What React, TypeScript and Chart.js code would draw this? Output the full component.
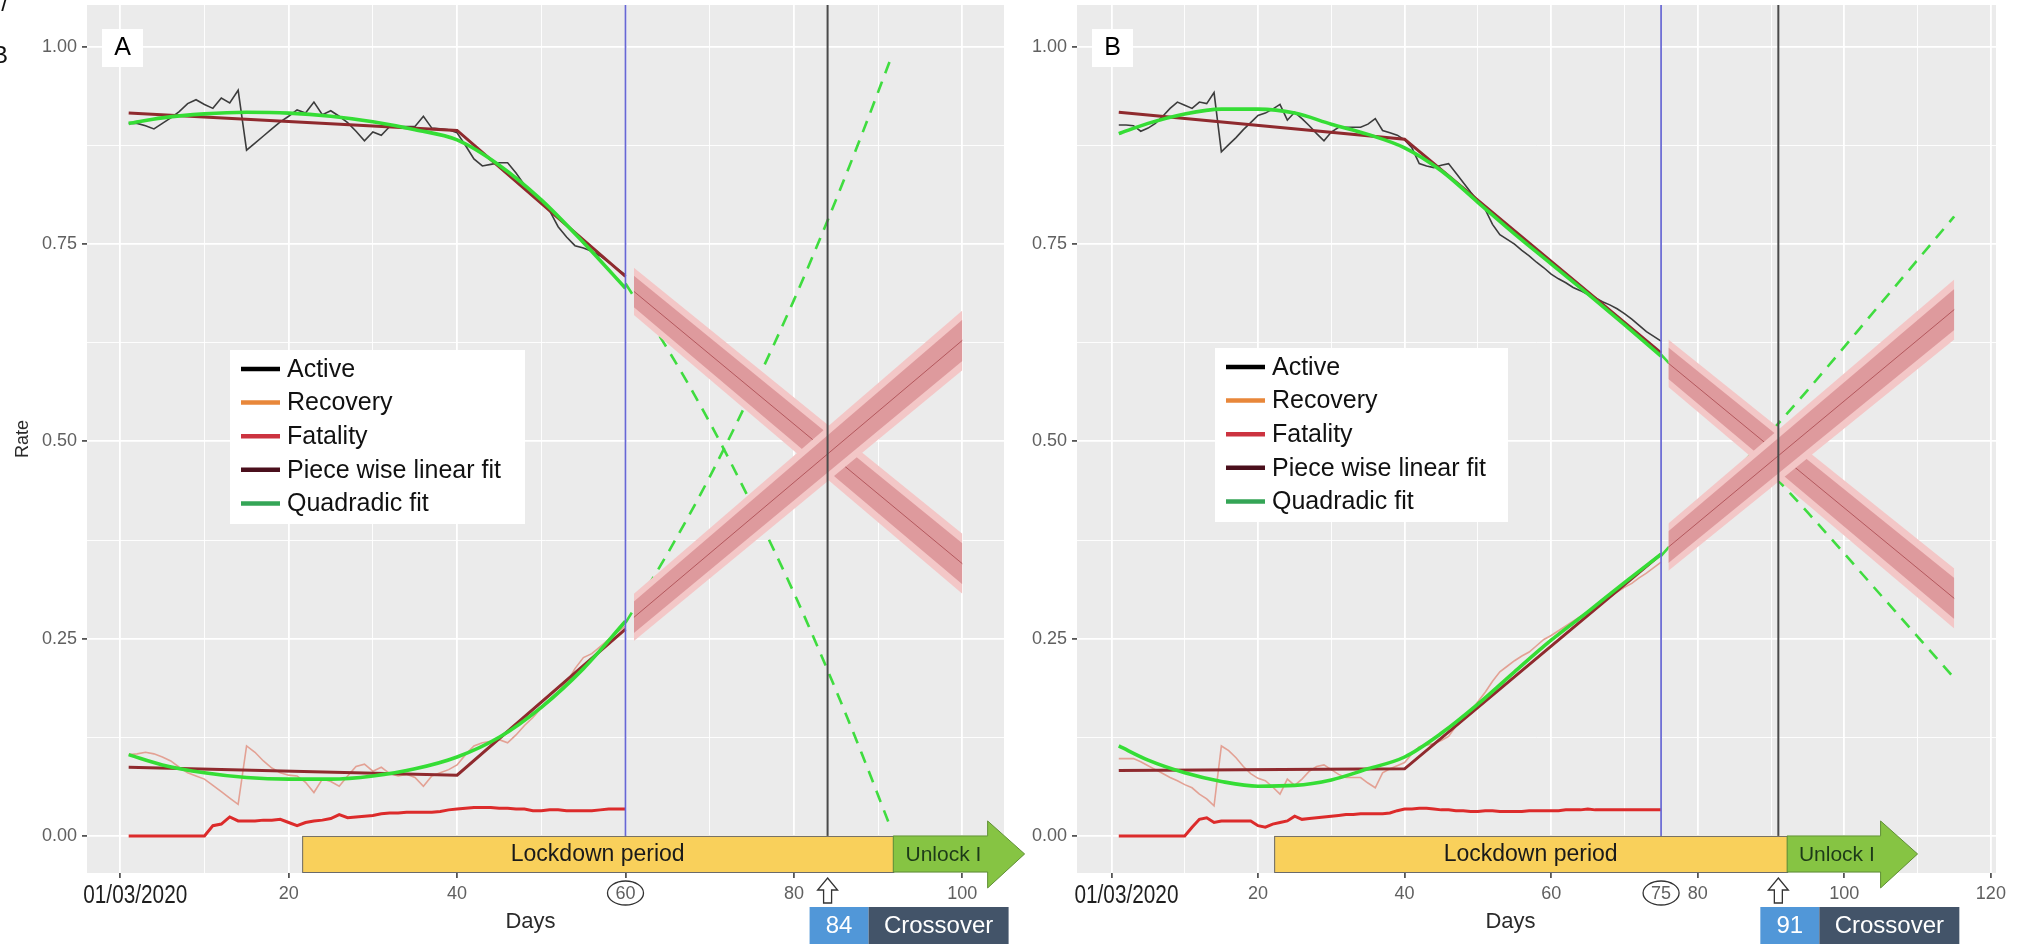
import React, { useEffect, useRef } from 'react';
import { Chart, registerables } from 'chart.js';
Chart.register(...registerables);

const SANS = '"Liberation Sans", Arial, sans-serif';

// ---------- axis ticks ----------
const yTickValues = [0, 0.125, 0.25, 0.375, 0.5, 0.625, 0.75, 0.875, 1.0];
const yTickLabels = ['0.00', '', '0.25', '', '0.50', '', '0.75', '', '1.00'];
const xTickValuesA = [0, 10, 20, 30, 40, 50, 60, 70, 80, 90, 100];
const xTickLabelsA = ['01/03/2020', '', '20', '', '40', '', '60', '', '80', '', '100'];
const xTickValuesB = [0, 10, 20, 30, 40, 50, 60, 70, 75, 80, 90, 100, 110, 120];
const xTickLabelsB = ['01/03/2020', '', '20', '', '40', '', '60', '', '75', '80', '', '100', '', '120'];

const legendLabels = ['Active', 'Recovery', 'Fatality', 'Piece wise linear fit', 'Quadradic fit'];
const legendColors = ['#000000', '#e8873a', '#cc3340', '#4a0f1c', '#34a556'];

// ---------- panel A data (day 1..60) ----------
const activeA = [0.903, 0.903, 0.900, 0.896, 0.903, 0.910, 0.918, 0.928, 0.933, 0.927,
  0.922, 0.935, 0.929, 0.945, 0.869, 0.878, 0.887, 0.896, 0.905, 0.912,
  0.920, 0.916, 0.930, 0.914, 0.919, 0.912, 0.904, 0.893, 0.881, 0.892,
  0.888, 0.899, 0.899, 0.899, 0.899, 0.912, 0.897, 0.896, 0.895, 0.891,
  0.875, 0.858, 0.849, 0.851, 0.853, 0.853, 0.840, 0.825, 0.812, 0.803,
  0.792, 0.772, 0.759, 0.748, 0.745, 0.741, 0.735, 0.727, 0.719, 0.711];
const recoveryA = [0.103, 0.104, 0.106, 0.104, 0.100, 0.095, 0.087, 0.080, 0.076, 0.072,
  0.064, 0.056, 0.048, 0.040, 0.114, 0.106, 0.095, 0.086, 0.080, 0.077,
  0.076, 0.068, 0.055, 0.072, 0.069, 0.063, 0.076, 0.088, 0.091, 0.082,
  0.087, 0.079, 0.076, 0.078, 0.074, 0.063, 0.076, 0.080, 0.084, 0.090,
  0.103, 0.114, 0.118, 0.120, 0.122, 0.118, 0.128, 0.140, 0.150, 0.162,
  0.171, 0.183, 0.194, 0.212, 0.226, 0.231, 0.240, 0.249, 0.258, 0.266];
const fatalityA = [0, 0, 0, 0, 0, 0, 0, 0, 0, 0,
  0.013, 0.015, 0.024, 0.019, 0.019, 0.019, 0.020, 0.020, 0.021, 0.017,
  0.013, 0.017, 0.019, 0.020, 0.022, 0.027, 0.023, 0.024, 0.025, 0.026,
  0.028, 0.029, 0.029, 0.030, 0.030, 0.030, 0.030, 0.031, 0.033, 0.034,
  0.035, 0.036, 0.036, 0.036, 0.035, 0.035, 0.034, 0.034, 0.032, 0.032,
  0.033, 0.033, 0.032, 0.032, 0.032, 0.032, 0.033, 0.034, 0.034, 0.034];
const pwDaysA = [1, 40, 60];
const pwActiveA = [0.916, 0.894, 0.709];
const pwRecoveryA = [0.087, 0.077, 0.262];
const quadDaysA = [1, 5, 10, 15, 20, 25, 30, 35, 40, 45, 50, 55, 60];
const quadActiveA = [0.903, 0.910, 0.915, 0.917, 0.916, 0.912, 0.905, 0.895, 0.882, 0.850, 0.806, 0.752, 0.694];
const quadRecoveryA = [0.103, 0.090, 0.080, 0.074, 0.072, 0.072, 0.076, 0.085, 0.100, 0.125, 0.163, 0.212, 0.272];
const dashDaysA = [60, 65, 70, 75, 80, 84, 88, 91.5];
const dashActiveA = [0.700, 0.617, 0.524, 0.420, 0.308, 0.210, 0.106, 0.010];
const dashRecoveryA = [0.270, 0.358, 0.455, 0.563, 0.679, 0.780, 0.887, 0.985];
const bandDaysA = [61, 100];
const decMidA = [0.690, 0.345];
const decInnerHiA = [0.710, 0.371];
const decInnerLoA = [0.670, 0.319];
const decOuterHiA = [0.720, 0.383];
const decOuterLoA = [0.660, 0.307];
const incMidA = [0.277, 0.628];
const incInnerHiA = [0.297, 0.654];
const incInnerLoA = [0.257, 0.602];
const incOuterHiA = [0.307, 0.666];
const incOuterLoA = [0.247, 0.590];
const fitEndA = 60;
const crossoverA = 84;
const lockdownA = [21.6, 91.8];
const unlockTipA = 107.4;

// ---------- panel B data (day 1..75) ----------
const activeB = [0.901, 0.901, 0.900, 0.893, 0.897, 0.903, 0.912, 0.922, 0.930, 0.926,
  0.922, 0.930, 0.928, 0.942, 0.867, 0.876, 0.885, 0.895, 0.904, 0.913,
  0.916, 0.921, 0.927, 0.907, 0.917, 0.909, 0.900, 0.890, 0.881, 0.892,
  0.898, 0.898, 0.898, 0.898, 0.902, 0.909, 0.894, 0.891, 0.888, 0.882,
  0.872, 0.852, 0.849, 0.847, 0.850, 0.852, 0.840, 0.828, 0.816, 0.805,
  0.794, 0.775, 0.762, 0.756, 0.750, 0.742, 0.735, 0.727, 0.720, 0.712,
  0.706, 0.701, 0.695, 0.691, 0.686, 0.682, 0.677, 0.673, 0.668, 0.662,
  0.655, 0.647, 0.639, 0.633, 0.627];
const recoveryB = [0.098, 0.098, 0.098, 0.094, 0.089, 0.084, 0.079, 0.074, 0.070, 0.065,
  0.061, 0.053, 0.047, 0.038, 0.114, 0.108, 0.099, 0.088, 0.079, 0.073,
  0.070, 0.062, 0.053, 0.072, 0.064, 0.072, 0.082, 0.088, 0.090, 0.084,
  0.078, 0.074, 0.074, 0.074, 0.067, 0.061, 0.080, 0.085, 0.089, 0.093,
  0.104, 0.113, 0.115, 0.117, 0.121, 0.126, 0.139, 0.147, 0.157, 0.170,
  0.182, 0.196, 0.208, 0.215, 0.222, 0.228, 0.233, 0.241, 0.249, 0.254,
  0.260, 0.266, 0.272, 0.278, 0.283, 0.290, 0.297, 0.303, 0.309, 0.315,
  0.320, 0.327, 0.333, 0.340, 0.347];
const fatalityB = [0, 0, 0, 0, 0, 0, 0, 0, 0, 0,
  0.011, 0.021, 0.023, 0.017, 0.019, 0.019, 0.019, 0.019, 0.019, 0.013,
  0.011, 0.015, 0.017, 0.019, 0.025, 0.021, 0.022, 0.023, 0.024, 0.025,
  0.026, 0.027, 0.027, 0.028, 0.028, 0.028, 0.028, 0.029, 0.032, 0.034,
  0.034, 0.035, 0.035, 0.034, 0.033, 0.033, 0.032, 0.032, 0.031, 0.031,
  0.032, 0.032, 0.031, 0.031, 0.031, 0.031, 0.032, 0.032, 0.032, 0.032,
  0.032, 0.033, 0.033, 0.033, 0.034, 0.033, 0.033, 0.033, 0.033, 0.033,
  0.033, 0.033, 0.033, 0.033, 0.033];
const pwDaysB = [1, 40, 75];
const pwActiveB = [0.917, 0.883, 0.612];
const pwRecoveryB = [0.083, 0.085, 0.357];
const quadDaysB = [1, 5, 10, 15, 20, 25, 30, 35, 40, 45, 50, 55, 60, 65, 70, 75];
const quadActiveB = [0.890, 0.903, 0.915, 0.921, 0.921, 0.916, 0.902, 0.889, 0.872, 0.843, 0.803, 0.763, 0.725, 0.687, 0.648, 0.608];
const quadRecoveryB = [0.114, 0.096, 0.080, 0.069, 0.063, 0.064, 0.071, 0.085, 0.100, 0.130, 0.167, 0.208, 0.248, 0.284, 0.321, 0.357];
const dashDaysB = [75, 85, 95, 105, 115];
const dashActiveB = [0.610, 0.510, 0.410, 0.305, 0.200];
const dashRecoveryB = [0.355, 0.460, 0.565, 0.675, 0.785];
const bandDaysB = [76, 115];
const decMidB = [0.599, 0.301];
const decInnerHiB = [0.619, 0.327];
const decInnerLoB = [0.579, 0.275];
const decOuterHiB = [0.629, 0.339];
const decOuterLoB = [0.569, 0.263];
const incMidB = [0.366, 0.667];
const incInnerHiB = [0.386, 0.693];
const incInnerLoB = [0.346, 0.641];
const incOuterHiB = [0.396, 0.705];
const incOuterLoB = [0.336, 0.629];
const fitEndB = 75;
const crossoverB = 91;
const lockdownB = [22.2, 92.2];
const unlockTipB = 110;

// ---------- helpers ----------
const pts = (xs: number[], ys: number[]) => ys.map((y, i) => ({ x: xs[i], y }));
const daily = (ys: number[]) => ys.map((y, i) => ({ x: i + 1, y }));

const panelA = {
  name: 'A', xRange: [-3.95, 104.95], xTicks: xTickValuesA, xLabels: xTickLabelsA, xNoGrid: [] as number[],
  circled: 60, active: activeA, recovery: recoveryA, fatality: fatalityA,
  pwDays: pwDaysA, pwActive: pwActiveA, pwRecovery: pwRecoveryA,
  quadDays: quadDaysA, quadActive: quadActiveA, quadRecovery: quadRecoveryA,
  dashDays: dashDaysA, dashActive: dashActiveA, dashRecovery: dashRecoveryA,
  bandDays: bandDaysA,
  dec: [decOuterHiA, decOuterLoA, decInnerHiA, decInnerLoA, decMidA],
  inc: [incOuterHiA, incOuterLoA, incInnerHiA, incInnerLoA, incMidA],
  fitEnd: fitEndA, crossover: crossoverA, lockdown: lockdownA, unlockTip: unlockTipA,
  showRate: true, legendOffset: [143, 345], legendW: 295, daysShift: -15,
};
const panelB = {
  name: 'B', xRange: [-4.7, 120.7], xTicks: xTickValuesB, xLabels: xTickLabelsB, xNoGrid: [75],
  circled: 75, active: activeB, recovery: recoveryB, fatality: fatalityB,
  pwDays: pwDaysB, pwActive: pwActiveB, pwRecovery: pwRecoveryB,
  quadDays: quadDaysB, quadActive: quadActiveB, quadRecovery: quadRecoveryB,
  dashDays: dashDaysB, dashActive: dashActiveB, dashRecovery: dashRecoveryB,
  bandDays: bandDaysB,
  dec: [decOuterHiB, decOuterLoB, decInnerHiB, decInnerLoB, decMidB],
  inc: [incOuterHiB, incOuterLoB, incInnerHiB, incInnerLoB, incMidB],
  fitEnd: fitEndB, crossover: crossoverB, lockdown: lockdownB, unlockTip: unlockTipB,
  showRate: false, legendOffset: [138, 343], legendW: 293, daysShift: -26,
};

const CLEAR = 'rgba(0,0,0,0)';

function lineDs(data: any[], color: string, width: number, order: number, extra: any = {}) {
  return { data, borderColor: color, borderWidth: width, pointRadius: 0, fill: false, order, tension: 0, ...extra };
}

function bandDs(days: number[], hi: number[], lo: number[], color: string, order: number) {
  return [
    { data: pts(days, hi), borderColor: CLEAR, borderWidth: 0, backgroundColor: color, fill: '+1', pointRadius: 0, order },
    { data: pts(days, lo), borderColor: CLEAR, borderWidth: 0, fill: false, pointRadius: 0, order: order - 0.5 },
  ];
}

function buildDatasets(p: any) {
  const OUTER = '#f3c7c7';
  const INNER = '#de9a9d';
  const MID = '#b4585d';
  const DASH = '#3fdc3f';
  return [
    lineDs(pts(p.dashDays, p.dashActive), DASH, 2.6, 60, { borderDash: [12, 9], cubicInterpolationMode: 'monotone' }),
    lineDs(pts(p.dashDays, p.dashRecovery), DASH, 2.6, 59, { borderDash: [12, 9], cubicInterpolationMode: 'monotone' }),
    ...bandDs(p.bandDays, p.dec[0], p.dec[1], OUTER, 50),
    ...bandDs(p.bandDays, p.dec[2], p.dec[3], INNER, 48),
    lineDs(pts(p.bandDays, p.dec[4]), MID, 1, 46),
    ...bandDs(p.bandDays, p.inc[0], p.inc[1], OUTER, 44),
    ...bandDs(p.bandDays, p.inc[2], p.inc[3], INNER, 42),
    lineDs(pts(p.bandDays, p.inc[4]), MID, 1, 40),
    lineDs(daily(p.recovery), '#e3a194', 1.6, 30),
    lineDs(daily(p.active), '#3c3c3c', 1.6, 29),
    lineDs(daily(p.fatality), '#dc2b2b', 3, 28),
    lineDs(pts(p.pwDays, p.pwActive), '#8f2a2e', 3, 20),
    lineDs(pts(p.pwDays, p.pwRecovery), '#8f2a2e', 3, 19),
    lineDs(pts(p.quadDays, p.quadActive), '#35dd35', 3.6, 10, { cubicInterpolationMode: 'monotone' }),
    lineDs(pts(p.quadDays, p.quadRecovery), '#35dd35', 3.6, 9, { cubicInterpolationMode: 'monotone' }),
  ];
}

function overlayPlugin(p: any) {
  return {
    id: 'overlay' + p.name,
    beforeDraw(chart: any) {
      const { ctx, chartArea: a } = chart;
      ctx.save();
      ctx.fillStyle = '#ebebeb';
      ctx.fillRect(a.left, a.top, a.right - a.left, a.bottom - a.top);
      ctx.restore();
    },
    afterDatasetsDraw(chart: any) {
      const { ctx, chartArea: a, scales } = chart;
      const x = scales.x;
      ctx.save();
      const bx = x.getPixelForValue(p.fitEnd);
      ctx.strokeStyle = '#6767d4';
      ctx.lineWidth = 1.7;
      ctx.beginPath(); ctx.moveTo(bx, a.top); ctx.lineTo(bx, a.bottom); ctx.stroke();
      const cx = x.getPixelForValue(p.crossover);
      ctx.strokeStyle = '#4a4a4a';
      ctx.lineWidth = 2;
      ctx.beginPath(); ctx.moveTo(cx, a.top); ctx.lineTo(cx, a.bottom); ctx.stroke();
      ctx.restore();
    },
    afterDraw(chart: any) {
      const { ctx, chartArea: a, scales } = chart;
      const x = scales.x, y = scales.y;
      ctx.save();
      // first x tick label (date), drawn condensed
      ctx.textAlign = 'center';
      ctx.textBaseline = 'middle';
      ctx.fillStyle = '#1e1e1e';
      ctx.font = '25px ' + SANS;
      ctx.fillText(p.xLabels[0], x.getPixelForValue(p.xTicks[0]) + 15, a.bottom + 23, 104);

      // lockdown bar
      const x0 = x.getPixelForValue(p.lockdown[0]);
      const x1 = x.getPixelForValue(p.lockdown[1]);
      const yTop = y.getPixelForValue(0);
      const yBot = a.bottom - 1;
      const mid = (yTop + yBot) / 2;
      ctx.fillStyle = '#f9d05b';
      ctx.strokeStyle = '#6a6a6a';
      ctx.lineWidth = 1;
      ctx.fillRect(x0, yTop, x1 - x0, yBot - yTop);
      ctx.strokeRect(x0 + 0.5, yTop + 0.5, x1 - x0, yBot - yTop);
      // unlock arrow
      const tip = x.getPixelForValue(p.unlockTip);
      const hx = tip - 37;
      ctx.fillStyle = '#86c443';
      ctx.strokeStyle = '#5f8f35';
      ctx.beginPath();
      ctx.moveTo(x1, yTop);
      ctx.lineTo(hx, yTop);
      ctx.lineTo(hx, mid - 33);
      ctx.lineTo(tip, mid);
      ctx.lineTo(hx, mid + 34);
      ctx.lineTo(hx, yBot);
      ctx.lineTo(x1, yBot);
      ctx.closePath();
      ctx.fill();
      ctx.stroke();
      ctx.fillStyle = '#1a1a1a';
      ctx.font = '23px ' + SANS;
      ctx.fillText('Lockdown period', (x0 + x1) / 2, mid + 1);
      ctx.fillStyle = '#1d3a18';
      ctx.font = '21px ' + SANS;
      ctx.fillText('Unlock I', (x1 + hx) / 2 + 3, mid + 1);

      // circle around tick label
      const ex = x.getPixelForValue(p.circled);
      ctx.strokeStyle = '#333';
      ctx.lineWidth = 1.3;
      ctx.beginPath();
      ctx.ellipse(ex, a.bottom + 20, 18, 12, 0, 0, Math.PI * 2);
      ctx.stroke();

      // hollow up arrow under crossover
      const cx = x.getPixelForValue(p.crossover);
      const t0 = a.bottom + 5;
      ctx.fillStyle = '#ffffff';
      ctx.beginPath();
      ctx.moveTo(cx, t0);
      ctx.lineTo(cx + 10, t0 + 12);
      ctx.lineTo(cx + 4, t0 + 12);
      ctx.lineTo(cx + 4, t0 + 25);
      ctx.lineTo(cx - 4, t0 + 25);
      ctx.lineTo(cx - 4, t0 + 12);
      ctx.lineTo(cx - 10, t0 + 12);
      ctx.closePath();
      ctx.fill();
      ctx.stroke();

      // crossover box
      const bl = cx - 18;
      const bt = a.bottom + 34;
      ctx.fillStyle = '#5197d8';
      ctx.fillRect(bl, bt, 59, 37);
      ctx.fillStyle = '#435469';
      ctx.fillRect(bl + 59, bt, 140, 37);
      ctx.fillStyle = '#ffffff';
      ctx.font = '24px ' + SANS;
      ctx.fillText(String(p.crossover), bl + 29.5, bt + 19);
      ctx.fillText('Crossover', bl + 59 + 70, bt + 19);

      // panel letter
      ctx.fillStyle = '#ffffff';
      ctx.fillRect(a.left + 15, 29, 41, 38);
      ctx.fillStyle = '#000';
      ctx.font = '25px ' + SANS;
      ctx.fillText(p.name, a.left + 35.5, 48);

      // legend
      const lx = a.left + p.legendOffset[0];
      const ly = a.top + p.legendOffset[1];
      ctx.fillStyle = '#ffffff';
      ctx.fillRect(lx, ly, p.legendW, 174);
      ctx.textAlign = 'left';
      ctx.font = '25px ' + SANS;
      legendLabels.forEach((lab, i) => {
        const iy = ly + 19 + i * 33.6;
        ctx.strokeStyle = legendColors[i];
        ctx.lineWidth = 4.5;
        ctx.beginPath();
        ctx.moveTo(lx + 11, iy);
        ctx.lineTo(lx + 50, iy);
        ctx.stroke();
        ctx.fillStyle = '#111';
        ctx.fillText(lab, lx + 57, iy + 1);
      });

      // axis titles
      ctx.textAlign = 'center';
      ctx.fillStyle = '#2a2a2a';
      ctx.font = '22px ' + SANS;
      ctx.fillText('Days', (a.left + a.right) / 2 + p.daysShift, 922);
      if (p.showRate) {
        ctx.save();
        ctx.translate(23, (a.top + a.bottom) / 2);
        ctx.rotate(-Math.PI / 2);
        ctx.font = '18px ' + SANS;
        ctx.fillText('Rate', 0, 0);
        ctx.restore();
        // cropped glyph remnants at the edge
        ctx.textAlign = 'right';
        ctx.fillStyle = '#111';
        ctx.font = '24px ' + SANS;
        ctx.fillText('B', 8, 56);
        ctx.fillText('/', 8, 4);
      }
      ctx.restore();
    },
  };
}

function makeConfig(p: any, box: { padLeft: number; padRight: number; yAxisW: number }) {
  const isMajorX = (i: number) => p.xLabels[i] !== '' && !p.xNoGrid.includes(p.xTicks[i]);
  return {
    type: 'line',
    data: { datasets: buildDatasets(p) },
    options: {
      animation: false,
      responsive: false,
      devicePixelRatio: 1,
      events: [],
      layout: { padding: { left: box.padLeft, right: box.padRight, top: 5, bottom: 0 } },
      plugins: { legend: { display: false }, tooltip: { enabled: false }, filler: { propagate: false } },
      scales: {
        x: {
          type: 'linear',
          min: p.xRange[0],
          max: p.xRange[1],
          afterBuildTicks: (s: any) => { s.ticks = p.xTicks.map((v: number) => ({ value: v })); },
          afterFit: (s: any) => { s.height = 75; s.paddingLeft = 0; s.paddingRight = 0; },
          ticks: {
            autoSkip: false, maxRotation: 0, minRotation: 0, padding: 5,
            callback: (_v: any, i: number) => (i === 0 ? '' : p.xLabels[i]),
            font: { family: SANS, size: 18 },
            color: '#606060',
          },
          grid: {
            color: (c: any) => (p.xNoGrid.includes(p.xTicks[c.index]) ? CLEAR : '#ffffff'),
            lineWidth: (c: any) => (isMajorX(c.index) ? 1.8 : 0.9),
            tickColor: (c: any) => (isMajorX(c.index) ? '#555' : CLEAR),
            tickLength: 5,
            drawTicks: true,
          },
          border: { display: false },
        },
        y: {
          type: 'linear',
          min: -0.047,
          max: 1.053,
          afterBuildTicks: (s: any) => { s.ticks = yTickValues.map((v) => ({ value: v })); },
          afterFit: (s: any) => { s.width = box.yAxisW; s.paddingTop = 0; s.paddingBottom = 0; },
          ticks: {
            autoSkip: false, padding: 5,
            callback: (_v: any, i: number) => yTickLabels[i],
            font: { family: SANS, size: 18 },
            color: '#606060',
          },
          grid: {
            color: '#ffffff',
            lineWidth: (c: any) => (yTickLabels[c.index] ? 1.8 : 0.9),
            tickColor: (c: any) => (yTickLabels[c.index] ? '#555' : CLEAR),
            tickLength: 5,
            drawTicks: true,
          },
          border: { display: false },
        },
      },
    },
    plugins: [overlayPlugin(p)],
  };
}

export default function App() {
  const refA = useRef<HTMLCanvasElement>(null);
  const refB = useRef<HTMLCanvasElement>(null);
  useEffect(() => {
    document.body.style.margin = '0';
    const ca = new Chart(refA.current as any, makeConfig(panelA, { padLeft: 0, padRight: 1025, yAxisW: 87 }) as any);
    const cb = new Chart(refB.current as any, makeConfig(panelB, { padLeft: 1027, padRight: 33, yAxisW: 50 }) as any);
    return () => { ca.destroy(); cb.destroy(); };
  }, []);
  return (
    <div style={{ position: 'relative', width: 2029, height: 948, background: '#ffffff', overflow: 'hidden' }}>
      <canvas ref={refA} width={2029} height={948} style={{ position: 'absolute', left: 0, top: 0 }} />
      <canvas ref={refB} width={2029} height={948} style={{ position: 'absolute', left: 0, top: 0 }} />
    </div>
  );
}
